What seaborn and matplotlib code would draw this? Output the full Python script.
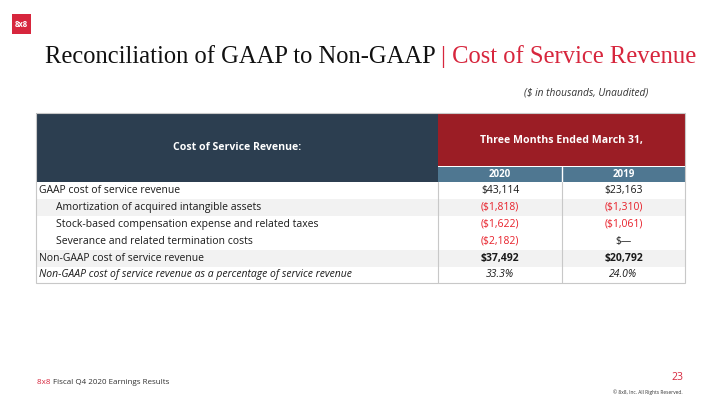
import matplotlib
matplotlib.use("Agg")
import matplotlib.pyplot as plt
from matplotlib.patches import Rectangle
import seaborn as sns

# table content
row_labels = [
    "GAAP cost of service revenue",
    "Amortization of acquired intangible assets",
    "Stock-based compensation expense and related taxes",
    "Severance and related termination costs",
    "Non-GAAP cost of service revenue",
    "Non-GAAP cost of service revenue as a percentage of service revenue",
]
row_indent = [0, 1, 1, 1, 0, 0]
years = ["2020", "2019"]
vals_2020 = [43114, -1818, -1622, -2182, 37492, 33.3]
vals_2019 = [23163, -1310, -1061, 0, 20792, 24.0]
row_kind = ["money", "money", "money", "money", "total", "pct"]
shaded = [False, True, False, False, True, False]

NAVY = "#2c3e50"
RED_HDR = "#9b1d25"
BLUE_HDR = "#4f7791"
NEG_RED = "#e8202a"
BRAND_RED = "#d7263d"
TXT = "#1a1a1a"
GRID = "#c8c8c8"


def fmt(v, kind):
    if kind == "pct":
        return f"{v:.1f}%"
    if v == 0:
        return "$\u2014"
    if v < 0:
        return f"(${-v:,.0f})"
    return f"${v:,.0f}"


sns.set_theme(style="white")
plt.rcParams["font.family"] = ["Open Sans", "DejaVu Sans"]

fig = plt.figure(figsize=(7.2, 4.05), dpi=100)
ax = fig.add_axes([0, 0, 1, 1])
ax.set_xlim(0, 720)
ax.set_ylim(405, 0)
ax.axis("off")

# logo
ax.add_patch(Rectangle((12, 14), 19, 20, color=BRAND_RED, lw=0))
ax.text(21.5, 24.5, "8x8", color="white", fontsize=5.5, fontweight="bold",
        ha="center", va="center")

# title (two colours), sized so it spans the same width as the slide
title_a = "Reconciliation of GAAP to Non-GAAP "
title_b = "| Cost of Service Revenue"
title_fs = 19
renderer = fig.canvas.get_renderer()
probe = ax.text(45, 57, title_a + title_b, fontsize=title_fs, family="Liberation Serif")
w = probe.get_window_extent(renderer).width
probe.remove()
title_fs = title_fs * 652 / w

t1 = ax.text(45, 57, title_a, fontsize=title_fs, family="Liberation Serif",
             color="#111111", va="center", ha="left")
bb = t1.get_window_extent(renderer)
ax.annotate(title_b, xy=(bb.x1, 405 - 57), xycoords="figure pixels",
            fontsize=title_fs, family="Liberation Serif",
            color=BRAND_RED, va="center", ha="left")

ax.text(648, 93, "($ in thousands, Unaudited)", fontsize=7.3, style="italic",
        color="#333333", ha="right", va="center")

# table geometry
left, right = 36, 685
col_split, col_mid = 438, 562
top, hdr_red_bot, hdr_bot = 113, 166, 182
row_h = 16.9

# header blocks
ax.add_patch(Rectangle((left, top), col_split - left, hdr_bot - top, color=NAVY, lw=0))
ax.add_patch(Rectangle((col_split, top), right - col_split, hdr_red_bot - top, color=RED_HDR, lw=0))
ax.add_patch(Rectangle((col_split, hdr_red_bot + 1), right - col_split, hdr_bot - hdr_red_bot - 1,
                       color=BLUE_HDR, lw=0))
ax.plot([col_mid, col_mid], [hdr_red_bot + 1, hdr_bot], color="white", lw=1)

ax.text((left + col_split) / 2, 148, "Cost of Service Revenue:", color="white",
        fontsize=7.6, fontweight="bold", ha="center", va="center")
ax.text((col_split + right) / 2, 140, "Three Months Ended March 31,", color="white",
        fontsize=7.6, fontweight="bold", ha="center", va="center")
col_centers = [(col_split + col_mid) / 2, (col_mid + right) / 2]
for xc, yr in zip(col_centers, years):
    ax.text(xc, (hdr_red_bot + hdr_bot) / 2 + 0.5, yr, color="white", fontsize=7,
            fontweight="bold", ha="center", va="center")

# row shading
for i, sh in enumerate(shaded):
    if sh:
        ax.add_patch(Rectangle((left, hdr_bot + i * row_h), right - left, row_h,
                               color="#f2f2f2", lw=0))

# row text
for i, lab in enumerate(row_labels):
    yc = hdr_bot + (i + 0.5) * row_h
    kind = row_kind[i]
    st = "italic" if kind == "pct" else "normal"
    ax.text(left + 3 + 17 * row_indent[i], yc, lab, fontsize=7.5, style=st,
            color=TXT, ha="left", va="center")
    for xc, v in zip(col_centers, (vals_2020[i], vals_2019[i])):
        c = NEG_RED if (kind != "pct" and v < 0) else TXT
        fw = "bold" if kind == "total" else "normal"
        ax.text(xc, yc, fmt(v, kind), fontsize=7.5, style=st, fontweight=fw,
                color=c, ha="center", va="center")

bottom = hdr_bot + len(row_labels) * row_h
ax.plot([col_split, col_split], [hdr_bot, bottom], color=GRID, lw=0.8)
ax.plot([col_mid, col_mid], [hdr_bot, bottom], color=GRID, lw=0.8)
ax.add_patch(Rectangle((left, top), right - left, bottom - top, fill=False,
                       ec=GRID, lw=0.8))

# footer
f1 = ax.text(37, 382, "8x8 ", fontsize=5.8, color=BRAND_RED, ha="left", va="center")
fb = f1.get_window_extent(renderer)
ax.annotate("Fiscal Q4 2020 Earnings Results", xy=(fb.x1, 405 - 382),
            xycoords="figure pixels", fontsize=5.8, color="#333333",
            ha="left", va="center")
ax.text(683, 378, "23", fontsize=7.5, color=BRAND_RED, ha="right", va="center")
ax.text(683, 392, "\u00a9 8x8, Inc. All Rights Reserved.", fontsize=3.5,
        color="#333333", ha="right", va="center")

fig.savefig("out.png", dpi=100)
